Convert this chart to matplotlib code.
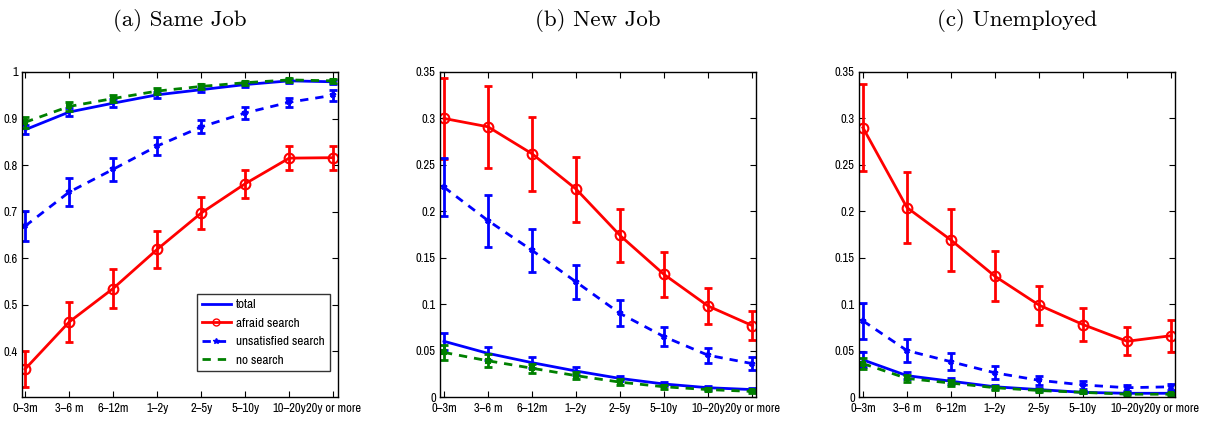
import matplotlib
matplotlib.use('Agg')
import matplotlib.pyplot as plt
import numpy as np

categories = ['0\u20133m', '3\u20136 m', '6\u201312m', '1\u20132y', '2\u20135y', '5\u201310y', '10\u201320y', '20y or more']
titles = ['(a) Same Job', '(b) New Job', '(c) Unemployed']
labels = ['total', 'afraid search', 'unsatisfied search', 'no search']

# (a) Same Job
same_total = [0.876, 0.914, 0.933, 0.951, 0.962, 0.973, 0.981, 0.979]
same_total_err = [0.010, 0.009, 0.008, 0.007, 0.006, 0.005, 0.004, 0.004]
same_afraid = [0.362, 0.463, 0.535, 0.619, 0.697, 0.760, 0.815, 0.816]
same_afraid_err = [0.039, 0.042, 0.041, 0.039, 0.034, 0.030, 0.026, 0.026]
same_unsat = [0.669, 0.742, 0.791, 0.841, 0.882, 0.912, 0.935, 0.950]
same_unsat_err = [0.033, 0.030, 0.025, 0.020, 0.014, 0.012, 0.010, 0.012]
same_nosearch = [0.892, 0.926, 0.943, 0.959, 0.969, 0.977, 0.983, 0.981]
same_nosearch_err = [0.012, 0.009, 0.008, 0.006, 0.005, 0.004, 0.004, 0.004]

# (b) New Job
new_total = [0.060, 0.047, 0.037, 0.028, 0.020, 0.014, 0.010, 0.008]
new_total_err = [0.009, 0.007, 0.006, 0.004, 0.003, 0.002, 0.002, 0.002]
new_afraid = [0.300, 0.291, 0.262, 0.224, 0.174, 0.132, 0.098, 0.077]
new_afraid_err = [0.044, 0.044, 0.040, 0.035, 0.029, 0.024, 0.019, 0.016]
new_unsat = [0.226, 0.190, 0.158, 0.124, 0.090, 0.065, 0.045, 0.036]
new_unsat_err = [0.031, 0.028, 0.023, 0.018, 0.014, 0.010, 0.008, 0.007]
new_nosearch = [0.048, 0.039, 0.031, 0.023, 0.016, 0.011, 0.008, 0.006]
new_nosearch_err = [0.008, 0.007, 0.005, 0.004, 0.003, 0.002, 0.002, 0.002]

# (c) Unemployed
unemp_total = [0.040, 0.023, 0.017, 0.011, 0.008, 0.005, 0.004, 0.004]
unemp_total_err = [0.008, 0.004, 0.003, 0.002, 0.002, 0.001, 0.001, 0.001]
unemp_afraid = [0.290, 0.204, 0.169, 0.130, 0.099, 0.078, 0.060, 0.066]
unemp_afraid_err = [0.047, 0.038, 0.033, 0.027, 0.021, 0.018, 0.015, 0.017]
unemp_unsat = [0.082, 0.050, 0.038, 0.026, 0.018, 0.013, 0.010, 0.011]
unemp_unsat_err = [0.019, 0.012, 0.009, 0.007, 0.005, 0.004, 0.003, 0.003]
unemp_nosearch = [0.036, 0.020, 0.015, 0.010, 0.007, 0.005, 0.003, 0.003]
unemp_nosearch_err = [0.006, 0.004, 0.003, 0.002, 0.002, 0.001, 0.001, 0.001]

panels = [
    (same_total, same_total_err, same_afraid, same_afraid_err, same_unsat, same_unsat_err, same_nosearch, same_nosearch_err),
    (new_total, new_total_err, new_afraid, new_afraid_err, new_unsat, new_unsat_err, new_nosearch, new_nosearch_err),
    (unemp_total, unemp_total_err, unemp_afraid, unemp_afraid_err, unemp_unsat, unemp_unsat_err, unemp_nosearch, unemp_nosearch_err),
]

#narrow helvetica-like font for ticks, like matlab output
plt.rcParams['font.family'] = ['Liberation Sans Narrow', 'Archivo Narrow', 'DejaVu Sans']
plt.rcParams['xtick.direction'] = 'in'
plt.rcParams['ytick.direction'] = 'in'

fig = plt.figure(figsize=(12.05, 4.21), dpi=100)
W, H = 1205.0, 421.0
lefts = [22, 440, 859]
x = np.arange(1, 9)

# line styles: (color, linestyle, marker, mfc, ms)
styles = [
    ((0, 0, 1), '-', None, 'none', 0),
    ((1, 0, 0), '-', 'o', 'none', 7),
    ((0, 0, 1), (0, (3, 2.5)), '*', (0, 0, 1), 4),
    ((0, 0.5, 0), (0, (3, 2.5)), 's', (0, 0.5, 0), 2.5),
]

for k in range(3):
    ax = fig.add_axes([lefts[k] / W, (H - 397) / H, 316 / W, 325 / H])
    vals = panels[k]
    for s in range(4):
        col, ls, mk, mfc, ms = styles[s]
        y = vals[2 * s]
        e = vals[2 * s + 1]
        ax.errorbar(x, y, yerr=e, fmt='none', ecolor=col, elinewidth=2,
                    capsize=3, capthick=2)
        ax.plot(x, y, color=col, linestyle=ls, linewidth=2,
                marker=mk if mk else 'None', markersize=ms,
                markerfacecolor=mfc, markeredgecolor=col, markeredgewidth=1.5)
    ax.set_xticks(x)
    ax.set_xticklabels(categories, fontsize=9)
    ax.tick_params(axis='both', top=True, right=True, length=4, width=0.8, pad=4)
    ax.tick_params(axis='y', labelsize=9, pad=3)
    if k == 0:
        ax.set_xlim(0.93, 8.11)
        ax.set_ylim(0.302, 1.0)
        ax.set_yticks([0.4, 0.5, 0.6, 0.7, 0.8, 0.9, 1.0])
        ax.set_yticklabels(['0.4', '0.5', '0.6', '0.7', '0.8', '0.9', '1'])
        leg_handles = []
        for s in range(4):
            col, ls, mk, mfc, ms = styles[s]
            lh, = ax.plot([], [], color=col, linestyle=ls, linewidth=2,
                          marker=mk if mk and s != 3 else 'None',
                          markersize=5 if s == 1 else ms,
                          markerfacecolor='none' if s == 1 else mfc,
                          markeredgecolor=col, markeredgewidth=1)
            leg_handles.append(lh)
        leg = ax.legend(leg_handles, labels, loc='lower right', fontsize=9.5,
                        frameon=True, fancybox=False, edgecolor='black',
                        handlelength=2.2, handletextpad=0.4, borderpad=0.4,
                        labelspacing=0.55, bbox_to_anchor=(0.975, 0.08),
                        numpoints=1, borderaxespad=0)
        leg.get_frame().set_linewidth(1.0)
    else:
        ax.set_xlim(0.91, 8.09)
        ax.set_ylim(0, 0.35)
        ax.set_yticks([0, 0.05, 0.1, 0.15, 0.2, 0.25, 0.3, 0.35])
        ax.set_yticklabels(['0', '0.05', '0.1', '0.15', '0.2', '0.25', '0.3', '0.35'])
    for sp in ax.spines.values():
        sp.set_linewidth(1.0)
    ax.text(0.5, 1.16, titles[k], transform=ax.transAxes, ha='center',
            va='center', fontsize=16.5, family=['cmr10'])

fig.savefig('out.png', dpi=100)
